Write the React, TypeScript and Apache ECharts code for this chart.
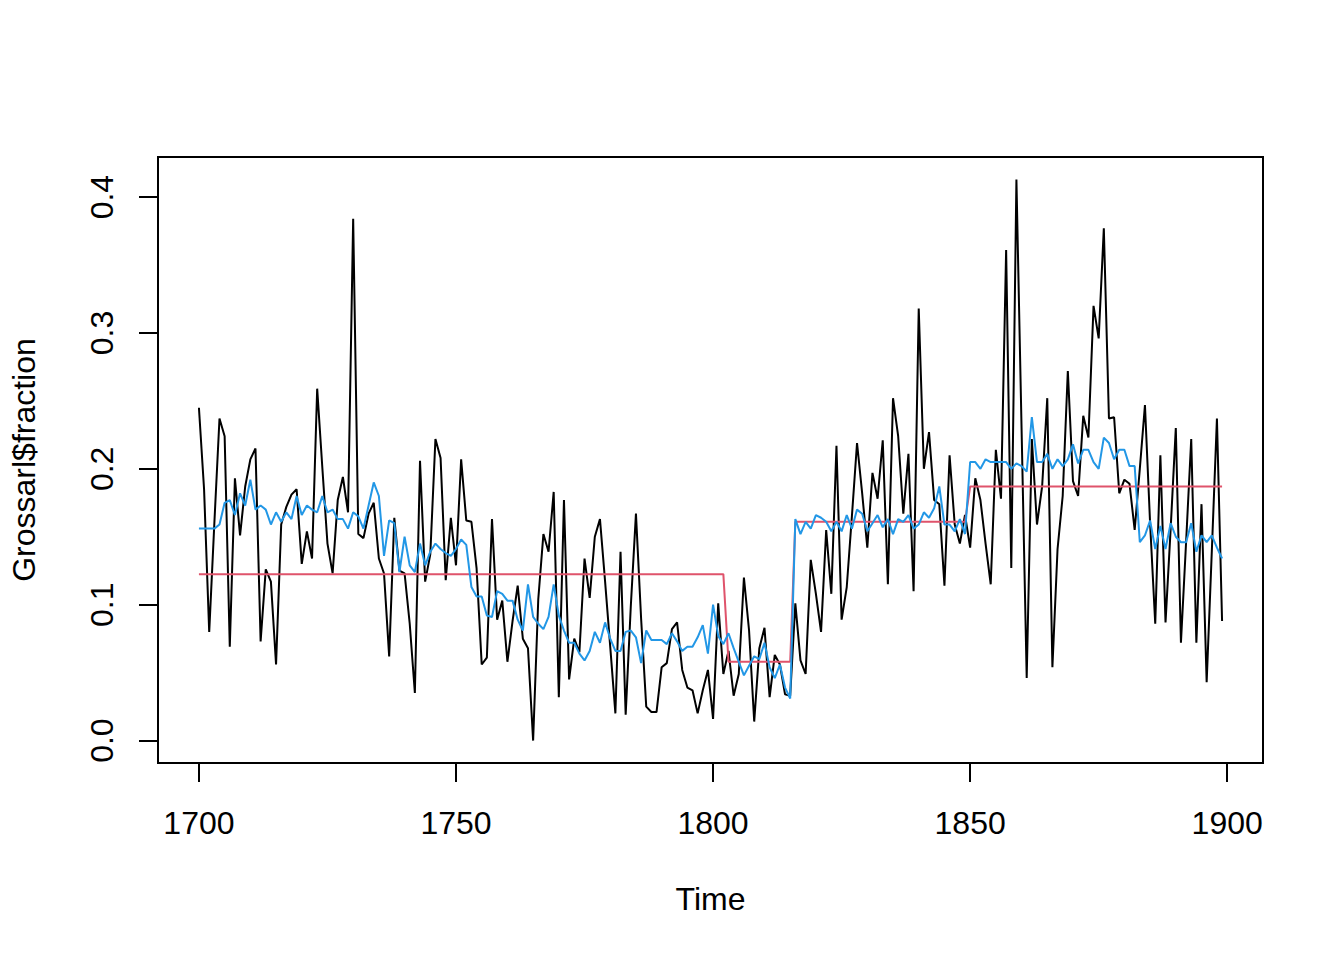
import { useEffect, useRef } from "react";
import * as echarts from "echarts";

// observed series, one value per year 1700..1899
const fraction = [
  0.245, 0.185, 0.080, 0.160, 0.237, 0.224, 0.069, 0.193, 0.151, 0.187,
  0.207, 0.215, 0.073, 0.126, 0.117, 0.056, 0.159, 0.172, 0.181, 0.185,
  0.130, 0.154, 0.134, 0.259, 0.201, 0.145, 0.123, 0.177, 0.194, 0.168,
  0.384, 0.152, 0.149, 0.167, 0.175, 0.134, 0.123, 0.062, 0.164, 0.125,
  0.123, 0.086, 0.035, 0.206, 0.117, 0.137, 0.222, 0.208, 0.118, 0.164,
  0.129, 0.207, 0.162, 0.161, 0.127, 0.056, 0.061, 0.163, 0.089, 0.103,
  0.058, 0.088, 0.114, 0.075, 0.068, 0.000, 0.104, 0.152, 0.139, 0.183,
  0.032, 0.177, 0.045, 0.075, 0.065, 0.134, 0.105, 0.150, 0.163, 0.117,
  0.069, 0.020, 0.139, 0.019, 0.099, 0.167, 0.090, 0.025, 0.021, 0.021,
  0.054, 0.057, 0.082, 0.087, 0.052, 0.039, 0.037, 0.020, 0.037, 0.052,
  0.016, 0.101, 0.049, 0.066, 0.033, 0.049, 0.120, 0.081, 0.014, 0.068,
  0.083, 0.032, 0.063, 0.056, 0.034, 0.033, 0.101, 0.059, 0.049, 0.133,
  0.108, 0.080, 0.155, 0.108, 0.217, 0.089, 0.113, 0.165, 0.219, 0.182,
  0.142, 0.197, 0.178, 0.221, 0.115, 0.252, 0.224, 0.167, 0.211, 0.110,
  0.318, 0.200, 0.227, 0.177, 0.174, 0.114, 0.210, 0.159, 0.145, 0.166,
  0.142, 0.193, 0.177, 0.145, 0.115, 0.214, 0.178, 0.361, 0.127, 0.413,
  0.230, 0.046, 0.222, 0.159, 0.187, 0.252, 0.054, 0.141, 0.180, 0.272,
  0.191, 0.180, 0.239, 0.223, 0.320, 0.296, 0.377, 0.237, 0.238, 0.182,
  0.192, 0.189, 0.155, 0.200, 0.247, 0.160, 0.086, 0.210, 0.087, 0.156,
  0.230, 0.072, 0.146, 0.222, 0.072, 0.174, 0.043, 0.139, 0.237, 0.088,
];

// smoothed / fitted series (blue)
const fitted = [
  0.156, 0.156, 0.156, 0.156, 0.159, 0.175, 0.177, 0.166, 0.182, 0.173,
  0.192, 0.170, 0.173, 0.170, 0.159, 0.168, 0.161, 0.168, 0.163, 0.180,
  0.166, 0.173, 0.170, 0.168, 0.180, 0.168, 0.170, 0.163, 0.163, 0.156,
  0.168, 0.165, 0.156, 0.173, 0.190, 0.180, 0.136, 0.162, 0.160, 0.124,
  0.150, 0.129, 0.124, 0.145, 0.129, 0.139, 0.145, 0.141, 0.138, 0.136,
  0.141, 0.148, 0.144, 0.113, 0.106, 0.106, 0.092, 0.091, 0.110, 0.108,
  0.103, 0.103, 0.089, 0.081, 0.115, 0.091, 0.086, 0.082, 0.091, 0.115,
  0.092, 0.081, 0.072, 0.072, 0.064, 0.059, 0.066, 0.080, 0.072, 0.087,
  0.075, 0.066, 0.066, 0.080, 0.081, 0.076, 0.057, 0.081, 0.074, 0.074,
  0.074, 0.071, 0.079, 0.073, 0.066, 0.069, 0.069, 0.076, 0.085, 0.064,
  0.100, 0.077, 0.071, 0.079, 0.068, 0.058, 0.048, 0.055, 0.062, 0.060,
  0.072, 0.054, 0.046, 0.056, 0.039, 0.031, 0.163, 0.152, 0.161, 0.156,
  0.166, 0.164, 0.161, 0.154, 0.161, 0.154, 0.166, 0.156, 0.170, 0.167,
  0.154, 0.160, 0.166, 0.157, 0.163, 0.152, 0.163, 0.161, 0.166, 0.156,
  0.159, 0.168, 0.164, 0.171, 0.187, 0.159, 0.159, 0.154, 0.163, 0.152,
  0.205, 0.205, 0.200, 0.207, 0.205, 0.205, 0.205, 0.205, 0.200, 0.204,
  0.202, 0.198, 0.238, 0.205, 0.205, 0.211, 0.200, 0.207, 0.202, 0.207,
  0.218, 0.204, 0.214, 0.214, 0.205, 0.200, 0.223, 0.219, 0.207, 0.214,
  0.214, 0.202, 0.202, 0.146, 0.151, 0.162, 0.141, 0.158, 0.141, 0.160,
  0.150, 0.146, 0.146, 0.160, 0.139, 0.151, 0.146, 0.151, 0.142, 0.134,
];

// breakpoint segments (red step line)
const segStart = [1700, 1803, 1816, 1850];
const segEnd = [1802, 1815, 1849, 1899];
const segLevel = [0.1225, 0.058, 0.161, 0.187];

const firstYear = 1700;
const xTicks = [1700, 1750, 1800, 1850, 1900];
const yTicks = [0, 0.1, 0.2, 0.3, 0.4];

const FONT = '"Liberation Sans", Arial, Helvetica, sans-serif';

export default function App() {
  const ref = useRef<HTMLDivElement>(null);

  useEffect(() => {
    if (!ref.current) return;
    const chart = echarts.init(ref.current, undefined, { renderer: "svg" });

    const years = fraction.map((_, i) => firstYear + i);
    const black = years.map((yr, i) => [yr, fraction[i]]);
    const blue = years.map((yr, i) => [yr, fitted[i]]);
    const red = years.map((yr) => {
      const s = segStart.findIndex((st, j) => yr >= st && yr <= segEnd[j]);
      return [yr, segLevel[s]];
    });

    const tickStyle = { color: "#000", width: 2 };

    chart.setOption({
      animation: false,
      backgroundColor: "#ffffff",
      textStyle: { fontFamily: FONT, color: "#000" },
      grid: {
        left: 157,
        top: 157,
        width: 1106,
        height: 606,
        show: true,
        borderColor: "#000",
        borderWidth: 2,
        backgroundColor: "transparent",
      },
      xAxis: {
        type: "value",
        min: 1692.04,
        max: 1906.96,
        name: "Time",
        nameLocation: "middle",
        nameGap: 120,
        nameTextStyle: { fontSize: 32, fontFamily: FONT, color: "#000" },
        axisLine: { show: false, onZero: false },
        splitLine: { show: false },
        axisTick: {
          show: true,
          length: 19,
          customValues: xTicks,
          lineStyle: tickStyle,
        },
        axisLabel: {
          customValues: xTicks,
          fontSize: 32,
          fontFamily: FONT,
          color: "#000",
          margin: 44,
          formatter: (v: number) => String(Math.round(v)),
        },
      },
      yAxis: {
        type: "value",
        min: -0.0165,
        max: 0.4295,
        name: "Grossarl$fraction",
        nameLocation: "middle",
        nameGap: 118,
        nameRotate: 90,
        nameTextStyle: { fontSize: 32, fontFamily: FONT, color: "#000" },
        axisLine: { show: false, onZero: false },
        splitLine: { show: false },
        axisTick: {
          show: true,
          length: 19,
          customValues: yTicks,
          lineStyle: tickStyle,
        },
        axisLabel: {
          customValues: yTicks,
          rotate: 90,
          fontSize: 32,
          fontFamily: FONT,
          color: "#000",
          margin: 40,
          formatter: (v: number) => v.toFixed(1),
        },
      },
      series: [
        {
          type: "line",
          data: black,
          showSymbol: false,
          lineStyle: { color: "#000000", width: 2 },
          itemStyle: { color: "#000000" },
        },
        {
          type: "line",
          data: red,
          showSymbol: false,
          lineStyle: { color: "#DF536B", width: 2 },
          itemStyle: { color: "#DF536B" },
        },
        {
          type: "line",
          data: blue,
          showSymbol: false,
          lineStyle: { color: "#2297E6", width: 2 },
          itemStyle: { color: "#2297E6" },
        },
      ],
    });

    return () => chart.dispose();
  }, []);

  return (
    <div
      ref={ref}
      style={{ position: "absolute", left: 0, top: 0, width: 1344, height: 960, background: "#fff" }}
    />
  );
}
